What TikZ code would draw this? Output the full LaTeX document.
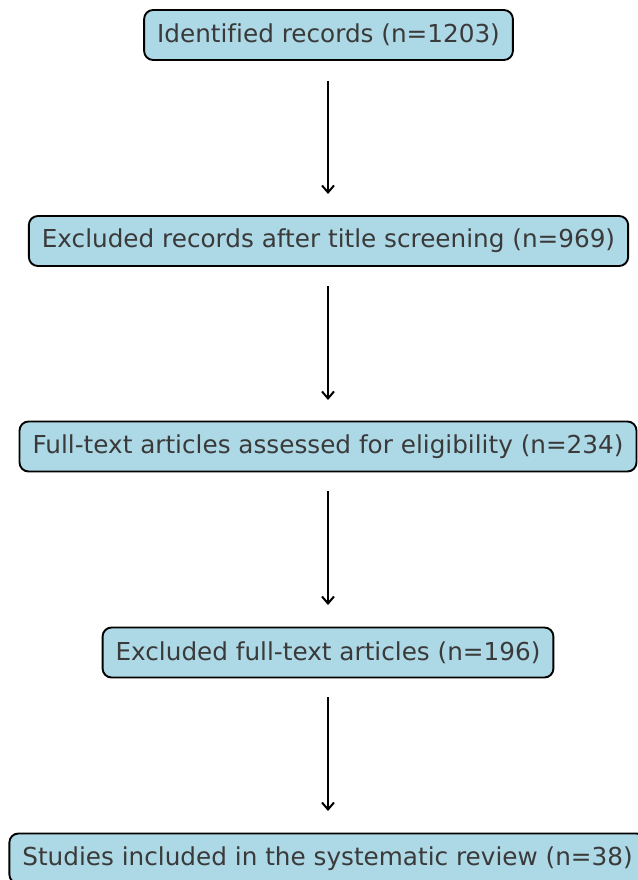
\documentclass[tikz,border=0pt]{standalone}
\usepackage{fontspec}
\setmainfont[Ligatures={NoCommon}]{DejaVu Sans}
\usetikzlibrary{arrows.meta}
\definecolor{boxfill}{HTML}{ADD8E6}
\definecolor{boxtext}{HTML}{3A3A3A}
\tikzset{
  stagebox/.style={draw=black, line width=1.9pt, fill=boxfill, rounded corners=9pt,
    minimum height=50pt, inner xsep=13pt, text=boxtext,
    font=\fontsize{24.7pt}{28pt}\selectfont},
  flowarrow/.style={line width=2pt, -{Straight Barb[length=7pt, width=12pt, line width=2pt]}}
}
\begin{document}
\begin{tikzpicture}[x=1pt, y=-1pt]
\useasboundingbox (0,0) rectangle (637,880);
\node[stagebox] (id) at (328.5,35) {Identified records (n=1203)};
\node[stagebox] (title) at (328.5,241) {Excluded records after title screening (n=969)};
\node[stagebox] (full) at (328,446.5) {Full-text articles assessed for eligibility (n=234)};
\node[stagebox] (exfull) at (328,652.5) {Excluded full-text articles (n=196)};
\node[stagebox] (incl) at (327.5,858.5) {Studies included in the systematic review (n=38)};
\coordinate (a1s) at (328,81); \coordinate (a1e) at (328,194);
\coordinate (a2s) at (328,286); \coordinate (a2e) at (328,400);
\coordinate (a3s) at (328,491); \coordinate (a3e) at (328,605);
\coordinate (a4s) at (328,697); \coordinate (a4e) at (328,811);
\draw[flowarrow] (a1s) -- (a1e);
\draw[flowarrow] (a2s) -- (a2e);
\draw[flowarrow] (a3s) -- (a3e);
\draw[flowarrow] (a4s) -- (a4e);
\end{tikzpicture}
\end{document}
